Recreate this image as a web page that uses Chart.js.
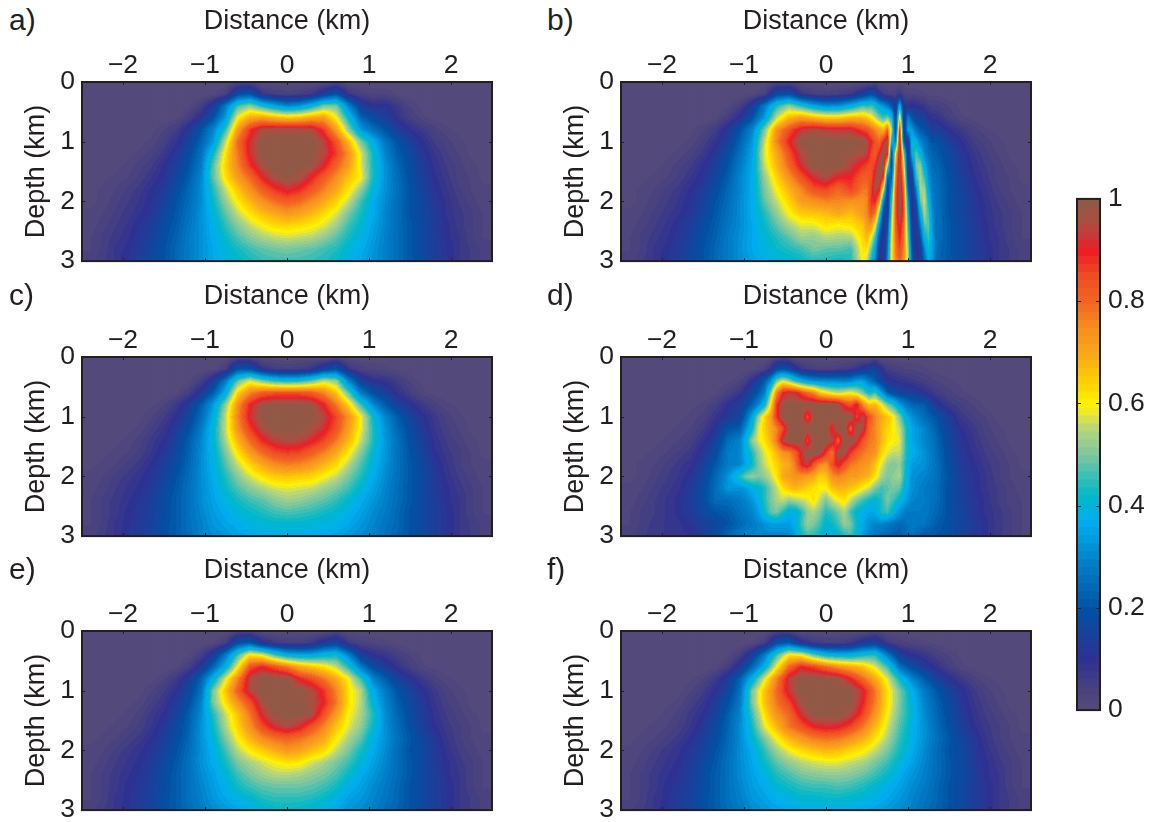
<!DOCTYPE html>
<html>
<head>
<meta charset="utf-8">
<script src="https://cdn.jsdelivr.net/npm/chart.js@4"></script>
<style>
  html, body { margin: 0; padding: 0; background: #fff; overflow: hidden; }
  body { position: relative; width: 1153px; height: 822px; font-family: "Liberation Sans", sans-serif; color: #231f20; }
  canvas { position: absolute; }
  .tag { position: absolute; font-size: 30px; line-height: 30px; }
</style>
</head>
<body>
<script>
// column centres (km) and depth samples (km) of the panels
const distances = [-2.4,-2.25,-2.1,-1.95,-1.8,-1.65,-1.5,-1.35,-1.2,-1.05,-0.9,-0.75,-0.6,-0.45,-0.3,-0.15,0,0.15,0.3,0.45,0.6,0.75,0.9,1.05,1.2,1.35,1.5,1.65,1.8,1.95,2.1,2.25,2.4];
// b has narrow stripes near 0.9 km and d has slanted lobes, so they are read closer
const distancesB = [-2.4,-2.25,-2.1,-1.95,-1.8,-1.65,-1.5,-1.35,-1.2,-1.05,-0.9,-0.75,-0.6,-0.45,-0.3,-0.15,0,0.15,0.3,0.45,0.5,0.55,0.6,0.65,0.7,0.75,0.8,0.85,0.9,0.95,1,1.05,1.1,1.15,1.2,1.25,1.3,1.35,1.5,1.65,1.8,1.95,2.1,2.25,2.4];
const distancesD = [-2.4,-2.25,-2.1,-1.95,-1.8,-1.65,-1.5,-1.35,-1.2,-1.05,-0.975,-0.9,-0.825,-0.75,-0.675,-0.6,-0.525,-0.45,-0.375,-0.3,-0.225,-0.15,-0.075,0,0.075,0.15,0.225,0.3,0.375,0.45,0.525,0.6,0.675,0.75,0.825,0.9,0.975,1.05,1.2,1.35,1.5,1.65,1.8,1.95,2.1,2.25,2.4];
const depths = [0,0.2,0.4,0.6,0.8,1,1.2,1.4,1.6,1.8,2,2.2,2.4,2.6,2.8,3];
const distanceTicks = [-2,-1,0,1,2];
const depthTicks = [0,1,2,3];

// values in percent, one row per depth
const panelA = [
[0,0,0,0,0,0,0,0,0,0,0,0,3,3,0,0,0,0,0,0,3,0,0,0,0,0,0,0,0,0,0,0,0],
[0,0,0,0,0,0,0,0,0,0,1,4,18,20,8,5,4,5,7,14,20,8,4,3,3,1,0,0,0,0,0,0,0],
[0,0,0,0,0,0,0,0,1,5,13,28,46,52,43,36,30,33,40,50,50,30,15,10,11,7,3,1,0,0,0,0,0],
[0,0,0,0,0,0,0,1,5,11,20,34,60,70,72,68,66,67,71,72,60,42,24,18,14,9,5,2,1,0,0,0,0],
[0,0,0,0,0,1,3,6,12,20,30,45,72,88,96,97,97,97,96,87,72,52,34,26,20,14,10,7,4,2,1,0,0],
[0,0,0,0,1,2,5,9,15,23,33,56,80,92,100,100,100,100,100,95,84,68,50,38,27,20,14,10,6,4,2,1,0],
[0,0,0,1,2,4,7,12,18,26,42,62,78,92,100,100,100,100,100,95,87,74,58,42,30,22,17,12,8,5,3,1,0],
[0,0,1,2,4,6,10,14,20,28,48,64,76,88,97,100,100,100,98,91,81,72,58,43,32,24,18,13,9,6,4,2,1],
[0,1,2,3,5,8,11,16,22,30,48,62,72,80,90,97,99,97,90,82,75,66,60,43,32,25,19,14,10,7,4,3,1],
[1,2,3,5,7,10,13,18,24,31,44,56,66,74,82,88,92,89,83,77,70,62,52,40,32,26,20,15,11,8,5,3,2],
[1,2,4,6,8,11,15,20,25,31,42,52,61,68,74,79,82,80,75,70,64,56,46,37,31,25,20,16,12,9,6,4,2],
[2,3,5,7,9,12,16,21,26,32,40,48,56,62,67,70,73,71,68,63,58,50,43,37,30,25,20,16,13,9,7,5,3],
[2,4,6,8,11,14,18,22,27,32,38,45,51,56,60,63,64,63,61,58,53,46,41,35,30,25,21,17,13,10,7,5,3],
[3,5,7,9,12,15,19,23,28,32,37,42,47,51,54,56,57,56,55,52,48,43,39,34,29,25,21,17,14,10,8,5,3],
[3,5,8,10,13,16,20,24,28,32,36,40,43,46,48,49,50,49,48,46,44,40,37,33,29,25,21,17,14,11,8,6,4],
[4,6,8,11,14,17,20,24,28,32,36,39,41,43,45,46,46,46,45,44,42,38,36,32,29,25,21,18,14,11,8,6,4]
];
const panelB = [
[0,0,0,0,0,0,0,0,0,0,0,0,3,3,0,0,0,0,0,0,0,0,3,0,0,0,0,0,0,0,0,0,0,0,0,0,0,0,0,0,0,0,0,0,0],
[0,0,0,0,0,0,0,0,0,0,1,4,17,19,8,5,4,5,7,13,17,19,17,10,7,5,4,5,8,4,3,3,3,2,2,1,1,1,0,0,0,0,0,0,0],
[0,0,0,0,0,0,0,0,1,5,13,28,44,52,44,36,31,32,38,46,44,46,42,36,33,28,22,12,40,10,9,11,10,9,8,6,5,5,3,1,0,0,0,0,0],
[0,0,0,0,0,0,0,1,5,11,20,34,56,68,72,68,65,65,68,68,66,62,56,50,46,50,42,14,65,10,30,20,16,15,14,11,9,9,5,2,1,0,0,0,0],
[0,0,0,0,0,1,3,6,12,20,30,50,74,84,93,96,94,93,93,86,84,80,76,72,68,80,55,12,92,9,36,34,26,22,20,17,14,14,10,7,4,2,1,0,0],
[0,0,0,0,1,2,5,9,15,23,33,56,76,90,100,100,100,100,100,100,96,90,84,80,90,98,40,30,100,20,11,42,38,30,27,23,20,20,14,10,6,4,2,1,0],
[0,0,0,1,2,4,7,12,18,26,35,58,70,84,96,100,100,100,98,96,94,86,82,90,100,92,15,62,100,50,9,38,48,40,30,26,23,22,17,12,8,5,3,1,0],
[0,0,1,2,4,6,10,14,20,28,36,56,68,80,92,100,100,100,94,88,86,84,88,100,100,56,12,72,100,62,10,24,50,52,38,29,25,24,18,13,9,6,4,2,1],
[0,1,2,3,5,8,11,16,22,30,37,52,64,74,84,92,96,90,90,82,82,84,94,100,88,24,22,78,100,72,14,12,44,54,46,32,26,25,19,14,10,7,4,3,1],
[1,2,3,5,7,10,13,18,24,30,37,50,60,68,76,84,86,80,86,78,78,86,97,92,60,12,35,82,100,80,24,10,30,54,54,36,27,26,20,15,11,8,5,3,2],
[1,2,4,6,8,11,15,20,25,31,37,48,56,64,72,74,76,76,74,74,76,88,90,74,30,10,45,84,100,84,34,9,20,48,57,42,28,26,20,16,12,9,6,4,2],
[2,3,5,7,9,12,16,21,26,31,37,44,52,60,65,66,67,70,67,72,76,84,78,50,16,12,50,84,100,84,40,10,14,38,54,46,30,26,20,16,13,9,7,5,3],
[2,4,6,8,11,14,18,22,27,31,36,42,48,54,58,58,62,60,62,66,72,74,60,34,11,18,55,82,94,80,46,12,11,28,48,48,32,26,21,17,13,10,7,5,3],
[3,5,7,9,12,15,19,23,28,32,36,40,44,48,53,52,55,54,54,64,68,60,46,20,9,24,58,80,90,78,50,16,10,20,40,46,33,26,21,17,14,10,8,5,3],
[3,5,8,10,13,16,20,24,28,32,36,39,42,44,46,50,48,48,46,62,62,50,36,14,8,28,60,78,86,76,54,20,9,14,30,42,34,25,21,17,14,11,8,6,4],
[4,6,8,11,14,17,20,24,28,32,35,37,39,40,42,44,44,42,44,60,56,42,30,11,8,30,60,76,82,74,56,24,9,12,24,36,33,24,21,18,14,11,8,6,4]
];
const panelC = [
[0,0,0,0,0,0,0,0,0,0,0,0,3,3,0,0,0,0,0,0,3,0,0,0,0,0,0,0,0,0,0,0,0],
[0,0,0,0,0,0,0,0,0,0,1,5,20,20,9,6,5,6,8,15,20,8,4,3,2,1,0,0,0,0,0,0,0],
[0,0,0,0,0,0,0,0,1,5,13,28,48,58,50,44,42,43,48,56,52,30,15,10,9,6,3,1,0,0,0,0,0],
[0,0,0,0,0,0,0,1,5,12,22,38,64,76,82,84,84,84,82,76,66,48,28,19,14,9,5,2,1,0,0,0,0],
[0,0,0,0,0,1,3,7,13,22,34,52,74,90,98,100,100,100,98,90,78,64,46,31,22,15,11,7,4,2,1,0,0],
[0,0,0,0,1,3,6,10,16,25,37,56,76,92,100,100,100,100,100,95,86,74,60,42,30,22,15,11,7,4,2,1,0],
[0,0,0,1,2,5,8,13,19,28,40,56,74,87,96,100,100,100,97,92,84,72,59,44,32,24,18,12,8,5,3,1,0],
[0,0,1,2,4,7,10,15,22,30,40,54,68,80,89,94,96,95,91,86,78,68,56,44,33,26,19,14,9,6,4,2,1],
[0,1,2,3,5,8,12,17,23,31,39,50,62,72,80,85,87,86,82,77,70,61,51,41,33,26,20,15,10,7,5,3,1],
[1,2,3,5,7,10,14,18,24,31,38,47,56,64,70,75,77,76,73,68,63,55,47,39,32,26,21,16,12,8,5,3,2],
[2,3,5,7,9,12,15,20,25,31,37,44,51,57,62,65,66,65,64,60,56,50,44,37,31,26,21,17,13,9,6,4,2],
[2,4,6,8,10,13,17,21,26,31,36,42,47,51,54,57,58,57,56,53,50,46,40,35,30,25,21,17,13,10,7,5,3],
[3,5,7,9,11,14,18,22,26,31,35,39,43,46,48,51,53,52,50,48,45,41,37,33,29,25,21,17,14,10,8,5,3],
[3,5,7,10,12,15,18,22,26,30,34,37,40,42,44,46,47,46,45,43,41,38,35,31,28,24,20,17,14,11,8,5,3],
[3,5,8,10,13,15,19,22,26,29,33,35,37,39,40,41,41,41,40,39,38,36,33,30,27,24,20,17,14,11,8,6,4],
[4,6,8,11,13,16,19,22,25,29,31,33,35,36,37,37,37,37,37,36,35,33,31,29,26,23,20,17,14,11,8,6,4]
];
const panelD = [
[0,0,0,0,0,0,0,0,0,0,0,0,0,0,0,3,3,3,0,0,0,0,0,0,0,0,0,0,0,0,0,3,0,0,0,0,0,0,0,0,0,0,0,0,0,0,0],
[0,0,0,0,0,0,0,0,0,0,0,1,2,4,9,17,20,17,12,8,6,5,4,4,4,5,6,7,9,12,14,16,10,6,5,4,3,3,2,1,0,0,0,0,0,0,0],
[0,0,0,0,0,0,0,0,1,3,6,10,15,22,32,50,58,52,44,38,34,32,31,30,30,30,29,30,34,34,28,22,16,11,10,9,8,7,5,3,2,1,0,0,0,0,0],
[0,0,0,0,0,0,0,1,4,8,12,17,22,28,50,76,90,93,92,86,80,76,66,62,58,56,58,60,56,50,42,46,34,22,18,16,15,14,10,6,4,2,1,0,0,0,0],
[0,0,0,0,0,1,2,5,10,14,18,23,30,40,62,88,98,100,100,100,100,100,100,100,100,98,88,84,92,76,66,68,60,50,44,34,28,24,22,12,7,5,3,1,0,0,0],
[0,0,0,0,1,2,4,8,12,16,25,36,52,64,72,88,100,100,100,98,85,98,100,100,100,100,100,100,86,96,84,76,70,66,60,50,38,32,25,20,13,7,5,3,1,0,0],
[0,0,0,1,2,3,6,11,20,22,32,42,58,64,70,76,85,98,100,100,100,100,100,100,88,100,100,82,100,96,80,76,68,64,60,56,44,36,30,22,15,10,7,4,2,1,0],
[0,0,1,2,3,5,9,14,25,30,40,52,58,62,68,78,95,100,100,100,86,98,100,100,96,82,100,100,94,84,78,76,68,62,60,58,44,36,30,24,16,11,8,5,3,1,0],
[0,1,2,3,5,7,12,18,28,30,38,44,52,58,62,68,74,76,82,92,100,100,98,88,78,98,98,88,82,78,76,74,64,58,56,56,44,38,32,25,17,12,9,6,4,2,1],
[1,2,3,5,7,9,14,21,28,30,36,42,50,56,60,64,68,70,78,90,94,84,76,74,84,92,84,78,76,74,72,66,58,52,50,52,42,34,32,26,18,13,10,7,5,3,1],
[1,2,4,6,8,11,16,24,32,44,50,52,50,52,56,62,70,72,74,74,72,70,64,66,74,76,74,72,72,70,68,62,54,50,52,54,40,32,30,26,19,14,11,8,5,3,2],
[2,3,5,7,9,13,18,25,33,32,34,38,40,44,50,56,62,66,68,66,64,62,60,60,66,68,68,66,64,60,56,50,46,48,50,48,38,32,28,25,19,15,11,8,6,4,2],
[2,4,6,8,10,14,18,25,25,28,30,33,38,44,50,54,56,52,54,56,58,62,56,50,56,60,62,56,50,46,42,40,44,50,46,40,34,30,28,25,19,15,12,9,6,4,3],
[3,5,6,8,10,13,17,20,22,26,28,30,34,42,48,50,44,38,38,44,52,54,50,44,46,50,54,46,40,38,36,36,44,46,38,32,28,28,28,24,19,16,12,9,7,5,3],
[3,5,7,8,9,11,14,16,20,24,26,28,30,32,34,34,34,34,38,46,52,50,46,40,42,46,52,50,42,36,32,30,30,28,26,24,26,28,27,22,19,16,13,10,7,5,3],
[4,6,7,8,8,10,14,18,24,28,30,30,30,30,30,30,30,31,34,42,46,44,42,38,38,40,44,46,40,34,30,27,25,23,22,22,24,26,20,20,18,15,12,10,7,5,3]
];
const panelE = [
[0,0,0,0,0,0,0,0,0,0,0,0,3,3,0,0,0,0,0,0,3,0,0,0,0,0,0,0,0,0,0,0,0],
[0,0,0,0,0,0,0,0,0,0,1,5,19,22,11,7,5,5,7,13,16,7,4,3,2,1,0,0,0,0,0,0,0],
[0,0,0,0,0,0,0,0,1,5,13,28,46,62,58,46,38,36,36,40,42,30,14,10,8,5,3,1,0,0,0,0,0],
[0,0,0,0,0,0,0,1,5,12,24,38,60,84,90,84,78,70,66,62,56,44,28,18,13,9,5,2,1,0,0,0,0],
[0,0,0,0,0,1,3,7,13,23,38,58,76,96,100,100,100,90,85,78,70,60,46,30,22,15,11,7,4,2,1,0,0],
[0,0,0,0,1,3,6,10,16,26,50,66,82,95,100,100,100,100,96,88,76,62,55,37,28,20,15,11,7,4,2,1,0],
[0,0,0,1,2,5,8,13,19,29,50,62,74,84,97,100,100,100,97,90,78,62,55,40,30,22,17,12,8,5,3,1,0],
[0,0,1,2,4,7,10,15,22,31,44,56,66,78,92,100,100,100,97,84,72,60,54,44,31,24,18,13,9,6,4,2,1],
[0,1,2,3,5,8,12,17,23,32,42,54,64,74,85,92,96,92,84,76,66,58,52,42,32,25,19,14,10,7,5,3,1],
[1,2,3,5,7,10,14,18,24,32,40,50,60,68,75,79,81,79,75,70,61,54,48,38,32,26,21,16,12,8,5,3,2],
[2,3,5,7,9,12,15,20,25,32,38,46,55,61,65,69,73,71,67,63,56,50,43,37,31,25,20,17,13,9,6,4,2],
[2,4,6,8,10,13,17,21,26,32,37,43,50,54,57,60,62,61,57,54,50,46,40,35,30,25,21,17,13,10,7,5,3],
[3,5,7,9,11,14,18,22,26,31,35,40,46,50,53,55,55,54,52,50,47,42,37,33,29,25,21,17,14,10,8,5,3],
[3,5,7,10,12,15,18,22,26,30,34,38,43,46,48,49,49,49,48,46,43,38,35,31,28,24,20,17,14,11,8,5,3],
[3,5,8,10,13,15,19,22,26,29,33,36,39,41,44,45,45,45,44,42,39,35,33,30,27,24,20,17,14,11,8,6,4],
[4,6,8,11,13,16,19,22,25,28,31,33,35,37,39,41,42,41,40,38,36,33,31,29,26,23,20,17,14,11,8,6,4]
];
const panelF = [
[0,0,0,0,0,0,0,0,0,0,0,0,3,3,0,0,0,0,0,0,3,0,0,0,0,0,0,0,0,0,0,0,0],
[0,0,0,0,0,0,0,0,0,0,1,5,19,22,11,7,5,5,7,13,16,7,4,3,2,1,0,0,0,0,0,0,0],
[0,0,0,0,0,0,0,0,1,5,14,28,46,62,60,48,40,38,38,42,44,28,14,10,8,5,3,1,0,0,0,0,0],
[0,0,0,0,0,0,0,1,5,12,24,38,60,80,90,86,80,74,70,66,58,46,26,18,13,9,5,2,1,0,0,0,0],
[0,0,0,0,0,1,3,7,13,23,38,58,76,94,100,100,100,98,90,80,70,58,42,30,22,15,11,7,4,2,1,0,0],
[0,0,0,0,1,3,6,10,16,26,50,66,80,93,100,100,100,100,100,92,78,62,50,38,28,21,15,11,7,4,2,1,0],
[0,0,0,1,2,5,8,13,19,28,50,66,78,86,98,100,100,100,100,90,77,62,50,39,30,23,17,12,8,5,3,1,0],
[0,0,1,2,4,7,10,15,22,30,46,62,74,80,92,100,100,100,96,86,73,60,49,40,31,24,18,13,9,6,4,2,1],
[0,1,2,3,5,8,12,17,23,31,43,58,68,78,84,90,92,91,86,78,68,57,47,39,32,25,19,14,10,7,5,3,1],
[1,2,3,5,7,10,14,18,24,31,40,50,60,68,73,77,79,78,74,69,62,54,45,38,32,26,21,16,12,8,5,3,2],
[2,3,5,7,9,12,15,20,25,31,37,45,53,59,63,66,68,67,64,61,56,50,43,37,31,25,20,17,13,9,6,4,2],
[2,4,6,8,10,13,17,21,26,31,36,42,48,52,55,57,58,58,56,54,50,46,40,35,30,25,21,17,13,10,7,5,3],
[3,5,7,9,11,14,18,22,26,31,35,39,44,47,50,51,52,52,51,49,46,42,37,33,29,25,21,17,14,10,8,5,3],
[3,5,7,10,12,15,18,22,26,30,34,37,41,43,45,46,46,47,46,44,41,38,35,31,28,24,20,17,14,11,8,5,3],
[3,5,8,10,13,15,19,22,26,29,33,35,38,39,41,41,42,42,41,40,38,36,33,30,27,24,20,17,14,11,8,6,4],
[4,6,8,11,13,16,19,22,25,28,31,33,35,36,37,37,37,37,37,36,35,33,31,29,26,23,20,17,14,11,8,6,4]
];

const colorbarTicks = [0,0.2,0.4,0.6,0.8,1];
const colorbarSteps = 64;

// colour scale of the figure: value, r, g, b
const colorStops = [
[0,87,75,122],[0.05,70,64,128],[0.1,46,49,146],[0.2,0,82,165],[0.3,0,133,204],[0.37,0,174,239],
[0.42,0,184,200],[0.47,76,192,176],[0.5,124,199,159],[0.55,181,214,125],[0.58,230,230,60],[0.6,255,242,0],
[0.65,255,203,5],[0.7,249,166,26],[0.75,247,142,30],[0.8,242,101,34],[0.85,240,78,35],[0.9,237,28,36],
[0.93,200,56,58],[0.96,169,80,63],[1,139,90,72]
];

var ink = '#231f20';
var font = 'Liberation Sans';

function rgbFor(v) {
    v = Math.min(1, Math.max(0, v));
    for (var i = 1; i < colorStops.length; i++) {
        if (v <= colorStops[i][0]) {
            var a = colorStops[i - 1], b = colorStops[i];
            var t = (v - a[0]) / (b[0] - a[0]);
            return [1, 2, 3].map(function (k) { return Math.round(a[k] + (b[k] - a[k]) * t); });
        }
    }
    return [139, 90, 72];
}

function colorFor(v) {
    return 'rgb(' + rgbFor(v).join(',') + ')';
}

// like shading interp: every bar shows its own column, blended to the next columns
// and depths, stepped to the levels of the colorbar. One pattern per chart.
function fieldPattern(chart, cols, rows) {
    if (chart.$field) return chart.$field;
    var off = document.createElement('canvas');
    off.width = chart.width;
    off.height = chart.height;
    var c = off.getContext('2d');
    var a = chart.chartArea, xs = chart.scales.x, ys = chart.scales.y;
    var img = c.createImageData(chart.width, chart.height);
    var last = cols.length - 1, lastRow = depths.length - 1;
    for (var py = Math.floor(a.top) - 2; py < a.bottom + 2; py++) {
        var d = Math.min(depths[lastRow], Math.max(0, ys.getValueForPixel(py + 0.5)));
        var r = Math.min(lastRow - 1, Math.floor(d / (depths[1] - depths[0])));
        var tr = (d - depths[r]) / (depths[r + 1] - depths[r]);
        var k = 0;
        for (var px = Math.floor(a.left) - 2; px < a.right + 2; px++) {
            var x = Math.min(cols[last], Math.max(cols[0], xs.getValueForPixel(px + 0.5)));
            while (k < last - 1 && x > cols[k + 1]) k++;
            var tk = (x - cols[k]) / (cols[k + 1] - cols[k]);
            var top = rows[r][k] + (rows[r][k + 1] - rows[r][k]) * tk;
            var low = rows[r + 1][k] + (rows[r + 1][k + 1] - rows[r + 1][k]) * tk;
            var v = (top + (low - top) * tr) / 100;
            var lv = (Math.min(colorbarSteps - 1, Math.floor(v * colorbarSteps)) + 0.5) / colorbarSteps;
            var rgb = rgbFor(lv), p = (py * chart.width + px) * 4;
            img.data[p] = rgb[0]; img.data[p + 1] = rgb[1]; img.data[p + 2] = rgb[2]; img.data[p + 3] = 255;
        }
    }
    c.putImageData(img, 0, 0);
    chart.$field = chart.ctx.createPattern(off, 'no-repeat');
    return chart.$field;
}

// frame and small inward ticks
var framePlugin = {
    id: 'frame',
    afterDraw: function (chart, args, opts) {
        var c = chart.ctx, a = chart.chartArea;
        c.save();
        c.strokeStyle = ink;
        c.lineWidth = 1;
        (opts.xTicks || []).forEach(function (v) {
            var x = Math.round(chart.scales.x.getPixelForValue(v)) + 0.5;
            c.beginPath(); c.moveTo(x, a.top); c.lineTo(x, a.top + 3); c.moveTo(x, a.bottom); c.lineTo(x, a.bottom - 3); c.stroke();
        });
        (opts.yTicks || []).forEach(function (v) {
            var y = Math.round(chart.scales.y.getPixelForValue(v)) + 0.5;
            c.beginPath(); c.moveTo(a.left, y); c.lineTo(a.left + opts.tick, y); c.moveTo(a.right, y); c.lineTo(a.right - opts.tick, y); c.stroke();
        });
        c.lineWidth = 2;
        c.strokeRect(a.left, a.top, a.right - a.left, a.bottom - a.top);
        c.restore();
    }
};

function addCanvas(left, top, w, h) {
    var el = document.createElement('canvas');
    el.width = w;
    el.height = h;
    el.style.left = left + 'px';
    el.style.top = top + 'px';
    el.style.width = w + 'px';
    el.style.height = h + 'px';
    document.body.appendChild(el);
    return el;
}

function drawPanel(tag, left, top, cols, rows) {
    var label = document.createElement('div');
    label.className = 'tag';
    label.textContent = tag;
    label.style.left = (left + 9 + (left ? -1 : 0)) + 'px';
    label.style.top = (top + 5) + 'px';
    document.body.appendChild(label);

    new Chart(addCanvas(left, top, 520, 284), {
        type: 'bar',
        data: {
            datasets: [{
                data: cols.map(function (x) { return {x: x, y: [depths[0], depths[depths.length - 1]]}; }),
                backgroundColor: function (context) {
                    if (!context.chart.chartArea) return colorFor(0);
                    return fieldPattern(context.chart, cols, rows);
                },
                borderWidth: 0,
                barThickness: 16
            }]
        },
        options: {
            responsive: false,
            animation: false,
            events: [],
            layout: {padding: {right: 28, bottom: 0}},
            plugins: {
                legend: {display: false},
                tooltip: {enabled: false},
                frame: {xTicks: distanceTicks, yTicks: [1, 2], tick: 3}
            },
            scales: {
                x: {
                    type: 'linear',
                    position: 'top',
                    offset: false,
                    min: -2.5,
                    max: 2.5,
                    afterFit: function (s) { s.height = 82; },
                    afterBuildTicks: function (s) { s.ticks = distanceTicks.map(function (v) { return {value: v}; }); },
                    grid: {display: false, drawTicks: false, offset: false},
                    border: {display: false},
                    ticks: {
                        autoSkip: false,
                        maxRotation: 0,
                        padding: 0,
                        color: ink,
                        font: {family: font, size: 26.5},
                        callback: function (v) { return v < 0 ? '\u2212' + (-v) : String(v); }
                    },
                    title: {display: true, text: 'Distance (km)', color: ink, font: {family: font, size: 27}, padding: {top: 5, bottom: 0}}
                },
                y: {
                    type: 'linear',
                    reverse: true,
                    min: 0,
                    max: 3,
                    afterFit: function (s) { s.width = 82; },
                    afterBuildTicks: function (s) { s.ticks = depthTicks.map(function (v) { return {value: v}; }); },
                    grid: {display: false, drawTicks: false},
                    border: {display: false},
                    ticks: {padding: 7, color: ink, font: {family: font, size: 26.5}},
                    title: {display: true, text: 'Depth (km)', color: ink, font: {family: font, size: 27}, padding: {top: 20, bottom: 0}}
                }
            }
        },
        plugins: [framePlugin]
    });
}

drawPanel('a)', 0, 0, distances, panelA);
drawPanel('b)', 539, 0, distancesB, panelB);
drawPanel('c)', 0, 275, distances, panelC);
drawPanel('d)', 539, 275, distancesD, panelD);
drawPanel('e)', 0, 549, distances, panelE);
drawPanel('f)', 539, 549, distances, panelF);

// colorbar
var levels = [];
for (var i = 0; i < colorbarSteps; i++) levels.push((i + 0.5) / colorbarSteps);

new Chart(addCanvas(1060, 175, 93, 559), {
    type: 'bar',
    data: {
        datasets: [{
            data: levels.map(function (v) { return {x: [0, 1], y: v}; }),
            backgroundColor: levels.map(colorFor),
            borderWidth: 0,
            inflateAmount: 1,
            barPercentage: 1,
            categoryPercentage: 1
        }]
    },
    options: {
        indexAxis: 'y',
        responsive: false,
        animation: false,
        events: [],
        layout: {padding: {left: 17, top: 0, bottom: 0}},
        plugins: {
            legend: {display: false},
            tooltip: {enabled: false},
            frame: {yTicks: [0.2, 0.4, 0.6, 0.8], tick: 4}
        },
        scales: {
            x: {type: 'linear', min: 0, max: 1, display: false},
            y: {
                type: 'linear',
                position: 'right',
                offset: false,
                min: 0,
                max: 1,
                afterFit: function (s) { s.width = 53; },
                afterBuildTicks: function (s) { s.ticks = colorbarTicks.map(function (v) { return {value: v}; }); },
                grid: {display: false, drawTicks: false, offset: false},
                border: {display: false},
                ticks: {
                    padding: 8,
                    color: ink,
                    font: {family: font, size: 26.5},
                    callback: function (v) { return String(v); }
                }
            }
        }
    },
    plugins: [framePlugin]
});
</script>
</body>
</html>
